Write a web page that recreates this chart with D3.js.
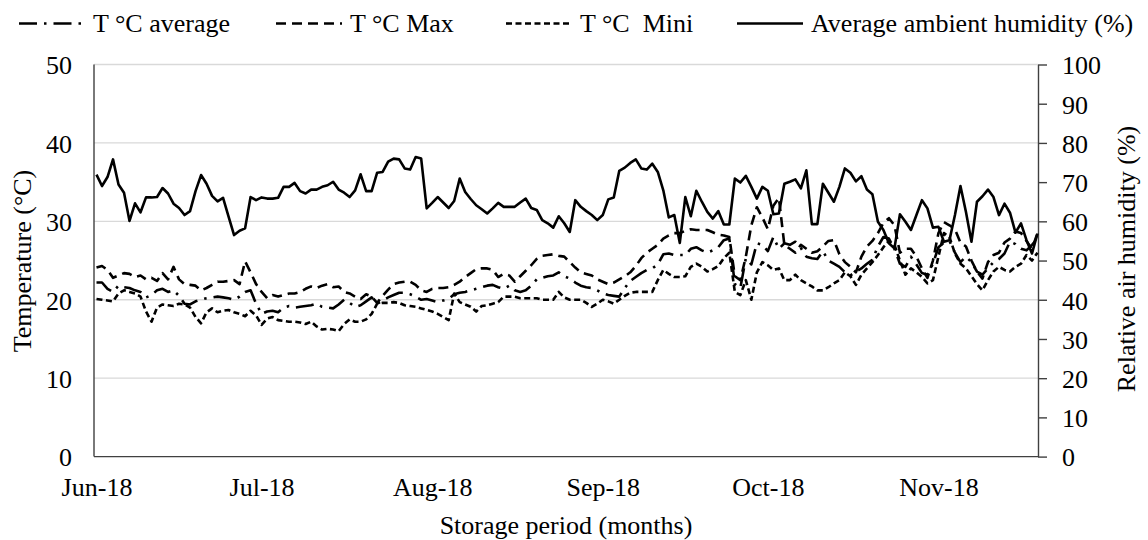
<!DOCTYPE html>
<html lang="en">
<head>
<meta charset="utf-8">
<title>Storage temperature and humidity</title>
<script src="https://cdn.jsdelivr.net/npm/d3@7"></script>
<style>
body{margin:0;background:#fff;}
svg text{font-family:"Liberation Serif","Times New Roman",serif;font-size:26px;fill:#000;}
.grid line{stroke:#d9d9d9;stroke-width:1.3px;}
.frame{stroke:#404040;stroke-width:1.4px;}
.axis path,.axis line{stroke:#404040;stroke-width:1.4px;}
.series{fill:none;stroke:#000;stroke-width:2.6px;stroke-linejoin:round;}
</style>
</head>
<body>
<svg></svg>
<script>
// daily readings from 1 June 2018
var startDay = new Date(2018, 5, 1);
var monthLabels = ["Jun-18", "Jul-18", "Aug-18", "Sep-18", "Oct-18", "Nov-18"];
var tempTicks = [0, 10, 20, 30, 40, 50];
var humTicks = [0, 10, 20, 30, 40, 50, 60, 70, 80, 90, 100];

var tAvg = [
  22.2, 22.2, 21.4, 21.0, 21.8, 21.6, 21.5, 21.2, 21.0, 20.3,
  20.6, 21.2, 21.4, 21.0, 21.2, 20.5, 19.5, 19.4, 19.8, 20.0,
  20.2, 20.3, 20.4, 20.3, 20.2, 20.0, 20.4, 21.0, 21.2, 19.5,
  18.2, 18.5, 18.6, 18.4, 19.0, 19.2, 19.0, 19.1, 19.2, 19.3,
  19.5, 19.1, 19.0, 18.9, 19.4, 20.0, 19.6, 19.1, 19.3, 19.8,
  20.3, 19.5, 19.9, 20.3, 20.6, 20.9, 20.9, 20.7, 20.4, 20.0,
  20.1, 19.9, 19.7, 19.9, 20.1, 20.7, 20.9, 21.0, 21.2, 21.4,
  21.6, 21.8, 21.9, 21.6, 21.4, 21.8, 21.2, 21.0, 21.2, 21.8,
  22.6, 22.8, 23.0, 23.1, 23.5, 23.0, 22.7, 22.2, 21.8, 21.6,
  21.5, 21.2, 20.8, 20.6, 20.5, 20.4, 21.5, 22.4, 22.9, 23.4,
  23.8, 24.0, 24.5, 25.8, 25.9, 25.7, 25.7, 25.7, 26.5, 26.7,
  26.3, 26.0, 26.3, 26.7, 27.6, 27.8, 22.0, 21.5, 25.3, 24.5,
  27.2, 27.0, 26.2, 28.0, 26.5, 27.2, 27.0, 27.4, 26.6, 25.5,
  25.3, 25.2, 26.2, 25.0, 24.6, 24.2, 23.5, 23.1, 23.6, 24.0,
  24.6, 25.1, 26.8, 28.0, 27.8, 26.5, 24.6, 24.2, 25.5, 24.5,
  23.4, 23.2, 24.6, 26.7, 27.3, 27.5, 26.0, 24.8, 25.5, 24.8,
  23.6, 23.2, 24.0, 24.8, 25.2, 25.9, 27.4, 27.1, 26.5, 26.3,
  27.0, 27.8
];
var tMax = [
  24.1, 24.3, 23.8, 22.8, 23.1, 23.4, 23.3, 22.9, 23.1, 22.6,
  22.8, 22.4, 23.4, 22.6, 24.2, 22.6, 22.0, 21.9, 21.8, 21.2,
  21.5, 21.9, 22.3, 22.3, 22.4, 22.5, 22.0, 24.9, 23.5, 22.0,
  21.0, 20.2, 20.6, 20.4, 20.6, 20.8, 20.8, 21.0, 21.4, 21.7,
  21.5, 21.8, 22.0, 21.6, 21.7, 21.0, 20.8, 20.4, 20.1, 20.7,
  20.4, 19.6, 20.5, 21.3, 22.0, 22.2, 22.3, 22.3, 21.9, 21.2,
  21.0, 21.4, 21.5, 21.5, 21.6, 21.9, 22.3, 22.9, 23.4, 23.9,
  24.0, 24.0, 23.8, 22.9, 23.3, 23.1, 22.3, 23.0, 23.7, 24.4,
  25.2, 25.6, 25.7, 25.8, 25.6, 25.5, 24.8, 24.1, 23.5, 23.3,
  23.1, 22.6, 22.3, 22.0, 22.2, 22.6, 23.0, 23.5, 24.3, 25.3,
  26.0, 26.5, 27.0, 27.8, 28.2, 28.5, 28.5, 28.8, 29.0, 28.9,
  28.9, 28.9, 28.6, 28.3, 28.2, 28.0, 23.0, 22.5, 25.5, 29.5,
  31.8, 30.5, 29.0, 32.0, 33.0, 27.0, 26.5, 26.0, 27.0, 26.5,
  26.0, 26.2, 26.8, 27.5, 27.6, 25.8, 24.8, 24.2, 23.5, 25.5,
  26.8, 27.5, 28.5, 29.8, 30.4, 29.5, 26.0, 26.5, 26.5, 25.5,
  24.0, 22.8, 25.0, 28.5, 29.9, 29.5, 29.0, 27.3, 26.8, 25.0,
  23.6, 22.7, 24.8, 25.7, 26.0, 27.3, 27.8, 28.7, 28.5, 27.5,
  26.5, 28.5
];
var tMin = [
  20.1, 20.0, 19.9, 19.8, 20.8, 21.2, 21.0, 20.8, 20.4, 18.5,
  17.2, 19.0, 19.4, 19.3, 19.2, 19.5, 19.4, 19.0, 17.8, 17.0,
  18.4, 18.9, 18.4, 18.6, 18.7, 18.4, 18.2, 17.9, 18.6, 18.0,
  16.8, 17.6, 17.8, 17.4, 17.3, 17.2, 17.2, 17.1, 16.9, 17.2,
  16.6, 16.2, 16.3, 16.2, 16.0, 16.9, 17.5, 17.2, 17.2, 17.5,
  18.2, 19.5, 19.6, 19.6, 19.7, 19.6, 19.3, 19.2, 19.1, 18.9,
  18.7, 18.5, 18.2, 17.8, 17.4, 20.8, 19.7, 19.4, 19.1, 18.5,
  19.2, 19.3, 19.5, 19.7, 20.4, 20.4, 20.4, 20.2, 20.2, 20.2,
  20.2, 20.0, 20.0, 20.0, 21.0, 20.3, 20.0, 20.0, 20.0, 19.6,
  19.1, 19.5, 20.0, 19.8, 19.5, 20.0, 20.5, 20.9, 21.0, 21.0,
  21.0, 21.0, 22.5, 23.8, 23.3, 22.9, 22.9, 23.0, 24.2, 24.6,
  24.2, 23.6, 23.9, 24.3, 25.3, 26.0, 21.0, 20.6, 22.5, 20.0,
  23.5, 24.8, 24.4, 23.8, 24.0, 22.5, 22.5, 23.2, 22.5, 22.1,
  21.7, 21.2, 21.2, 21.6, 22.1, 22.5, 23.5, 23.0, 21.9, 23.2,
  24.0, 24.8, 25.7, 26.7, 27.5, 27.0, 25.0, 23.2, 24.0, 23.5,
  22.9, 22.1, 22.5, 25.5, 28.5, 28.0, 25.9, 24.6, 24.0, 23.0,
  22.0, 21.2, 22.5, 23.6, 24.2, 23.8, 23.6, 24.2, 24.6, 25.7,
  25.0, 26.0
];
var humidity = [
  71.9, 69.0, 71.3, 75.8, 69.4, 67.3, 60.1, 64.6, 62.3, 66.1,
  66.1, 66.2, 68.5, 67.1, 64.5, 63.4, 61.6, 62.6, 67.7, 71.8,
  69.6, 66.5, 65.1, 66.0, 61.2, 56.5, 57.6, 58.2, 66.2, 65.4,
  66.1, 65.8, 65.8, 66.0, 68.8, 68.8, 69.8, 67.7, 67.1, 68.1,
  68.1, 68.8, 69.2, 70.1, 68.1, 67.3, 66.2, 67.9, 72.0, 67.7,
  67.7, 72.4, 72.6, 75.2, 76.0, 75.8, 73.5, 73.2, 76.4, 76.0,
  63.3, 64.7, 66.2, 64.8, 63.4, 65.2, 70.9, 67.5, 65.7, 64.1,
  63.1, 62.0, 63.3, 64.7, 63.7, 63.7, 63.7, 64.8, 65.8, 63.4,
  62.9, 60.3, 59.5, 58.4, 61.3, 59.5, 57.3, 65.4, 63.7, 62.6,
  61.6, 60.3, 61.6, 65.6, 66.1, 72.9, 73.7, 74.9, 75.8, 73.5,
  73.2, 74.7, 72.6, 67.9, 61.0, 61.6, 54.5, 66.2, 61.3, 67.8,
  65.0, 62.4, 60.7, 62.6, 59.2, 59.2, 70.9, 69.9, 71.6, 68.8,
  65.8, 68.8, 67.8, 61.8, 62.0, 69.6, 70.1, 70.7, 68.4, 73.0,
  59.3, 59.3, 69.6, 67.3, 65.0, 68.8, 73.5, 72.4, 70.2, 71.5,
  68.1, 66.9, 59.9, 57.8, 54.4, 53.1, 61.8, 59.9, 57.8, 61.6,
  65.4, 63.3, 58.4, 58.6, 54.8, 55.2, 61.6, 69.0, 62.4, 54.8,
  65.0, 66.4, 68.1, 66.2, 61.6, 64.5, 62.2, 57.1, 59.5, 55.2,
  51.8, 56.9
];

var days = humidity.map(function(d, i){ return d3.timeDay.offset(startDay, i); });
var monthDates = monthLabels.map(function(d, i){ return d3.timeMonth.offset(startDay, i); });

var width = 1148, height = 540;
var plotLeft = 94, plotRight = 1038, plotTop = 64.5, plotBottom = 456.6;

var svg = d3.select("svg")
            .attr("width", width)
            .attr("height", height);

var x = d3.scaleTime()
          .domain([days[0], days[days.length - 1]])
          .range([96.5, 1037.5]);
var yT = d3.scaleLinear().domain([0, 50]).range([plotBottom, plotTop]);
var yH = d3.scaleLinear().domain([0, 100]).range([plotBottom, plotTop]);

// gridlines
svg.append("g")
   .attr("class", "grid")
   .selectAll("line")
   .data(tempTicks.filter(function(d){ return d > 0; }))
   .enter()
   .append("line")
   .attr("x1", plotLeft)
   .attr("x2", plotRight)
   .attr("y1", function(d){ return yT(d); })
   .attr("y2", function(d){ return yT(d); });

// left axis
var leftAxis = svg.append("g")
   .attr("class", "axis")
   .attr("transform", "translate(" + plotLeft + ",0)")
   .call(d3.axisLeft(yT).tickValues(tempTicks).tickSize(0).tickPadding(22));
leftAxis.select(".domain").remove();
leftAxis.selectAll("text").attr("dy", "0.36em");

// right axis
var rightAxis = svg.append("g")
   .attr("class", "axis")
   .attr("transform", "translate(" + plotRight + ",0)")
   .call(d3.axisRight(yH).tickValues(humTicks).tickSize(9).tickSizeOuter(0).tickPadding(15));
rightAxis.selectAll("text").attr("dy", "0.36em");

// bottom axis
var bottomAxis = svg.append("g")
   .attr("class", "axis")
   .attr("transform", "translate(0," + plotBottom + ")")
   .call(d3.axisBottom(x).tickValues(monthDates)
           .tickFormat(function(d, i){ return monthLabels[i]; })
           .tickSize(0).tickPadding(21));
bottomAxis.select(".domain").remove();

svg.append("line").attr("class", "frame")
   .attr("x1", plotLeft).attr("x2", plotLeft).attr("y1", plotTop).attr("y2", plotBottom);
svg.append("line").attr("class", "frame")
   .attr("x1", plotLeft).attr("x2", plotRight).attr("y1", plotBottom).attr("y2", plotBottom);

// series
var series = [
  {name: "T \u00B0C average", values: tAvg, scale: yT, dash: "18,7,2.5,7"},
  {name: "T \u00B0C Max", values: tMax, scale: yT, dash: "10,6"},
  {name: "T \u00B0C\u00A0 Mini", values: tMin, scale: yT, dash: "6,3.5"},
  {name: "Average ambient humidity (%)", values: humidity, scale: yH, dash: null}
];

series.forEach(function(s){
  var line = d3.line()
               .x(function(d, i){ return x(days[i]); })
               .y(function(d){ return s.scale(d); });
  svg.append("path")
     .datum(s.values)
     .attr("class", "series")
     .attr("stroke-dasharray", s.dash)
     .attr("d", line);
});

// legend
var legendX = [93, 350, 580, 811];
var legend = svg.append("g");
series.forEach(function(s, i){
  legend.append("line")
        .attr("class", "series")
        .attr("x1", legendX[i] - 74)
        .attr("x2", legendX[i] - 8)
        .attr("y1", 23.5)
        .attr("y2", 23.5)
        .attr("stroke-dasharray", s.dash);
  legend.append("text")
        .attr("x", legendX[i])
        .attr("y", 32)
        .text(s.name);
});

// axis titles
svg.append("text")
   .attr("transform", "translate(31,261) rotate(-90)")
   .attr("text-anchor", "middle")
   .text("Temperature (\u00B0C)");
svg.append("text")
   .attr("transform", "translate(1135,259) rotate(-90)")
   .attr("text-anchor", "middle")
   .text("Relative air humidity (%)");
svg.append("text")
   .attr("x", 566)
   .attr("y", 534)
   .attr("text-anchor", "middle")
   .text("Storage period (months)");
</script>
</body>
</html>
